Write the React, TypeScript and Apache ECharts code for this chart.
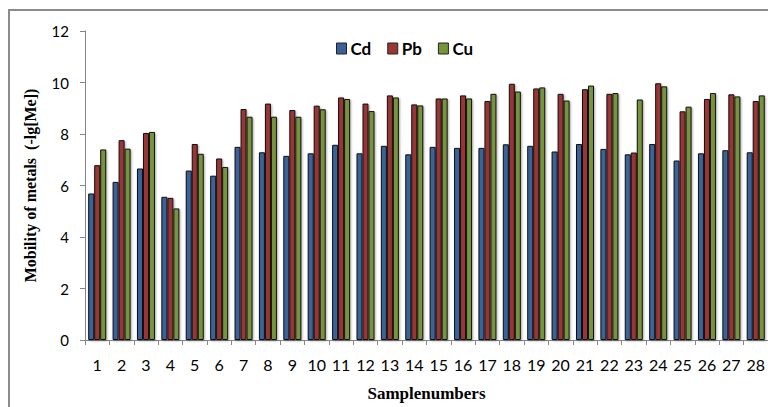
import React, { useEffect, useRef } from "react";
import * as echarts from "echarts";

const categories = ["1","2","3","4","5","6","7","8","9","10","11","12","13","14","15","16","17","18","19","20","21","22","23","24","25","26","27","28"];
const cdValues = [5.69,6.14,6.66,5.56,6.58,6.38,7.5,7.29,7.15,7.25,7.58,7.25,7.54,7.21,7.5,7.46,7.46,7.6,7.54,7.32,7.61,7.42,7.21,7.61,6.97,7.25,7.37,7.29];
const pbValues = [6.79,7.76,8.04,5.52,7.61,7.05,8.97,9.18,8.93,9.1,9.42,9.18,9.5,9.15,9.38,9.5,9.28,9.95,9.77,9.56,9.74,9.56,7.28,9.97,8.88,9.36,9.54,9.28];
const cuValues = [7.4,7.43,8.08,5.11,7.23,6.72,8.67,8.67,8.67,8.96,9.36,8.89,9.42,9.11,9.38,9.38,9.56,9.65,9.81,9.3,9.88,9.59,9.34,9.85,9.06,9.59,9.46,9.5];

const seriesNames = ["Cd", "Pb", "Cu"];
const colors = ["#3A6299", "#9A3634", "#77933C"];

export default function App() {
  const ref = useRef<HTMLDivElement>(null);
  useEffect(() => {
    if (!ref.current) return;
    const chart = echarts.init(ref.current, undefined, { renderer: "svg" });
    const data = [cdValues, pbValues, cuValues];
    chart.setOption({
      animation: false,
      backgroundColor: "#ffffff",
      graphic: [
        {
          type: "rect",
          shape: { x: 9, y: 10, width: 800, height: 450 },
          style: { fill: "none", stroke: "#8C8C8C", lineWidth: 2 },
          silent: true,
        },
      ],
      legend: {
        top: 35,
        left: 331,
        icon: "rect",
        itemWidth: 10,
        itemHeight: 11,
        itemGap: 16,
        data: seriesNames,
        itemStyle: { borderColor: "#222", borderWidth: 1 },
        textStyle: { fontFamily: "Lato", fontWeight: "bold", fontSize: 17, color: "#000", padding: [0, 0, 0, -1] },
      },
      grid: { left: 85, top: 31, width: 684, height: 310 },
      xAxis: {
        type: "category",
        data: categories,
        name: "Samplenumbers",
        nameLocation: "middle",
        nameGap: 45,
        nameTextStyle: { fontFamily: "Liberation Serif", fontWeight: "bold", fontSize: 17, color: "#000" },
        axisLine: { lineStyle: { color: "#868686", width: 1 } },
        axisTick: { show: true, length: 5, lineStyle: { color: "#868686" } },
        axisLabel: { fontFamily: "Lato", fontSize: 16, color: "#000", margin: 16, interval: 0 },
      },
      yAxis: {
        type: "value",
        min: 0,
        max: 12,
        interval: 2,
        name: "Mobility of metals  (-lg[Me])",
        nameLocation: "middle",
        nameGap: 47,
        nameRotate: 90,
        nameTextStyle: { fontFamily: "Liberation Serif", fontWeight: "bold", fontSize: 16, color: "#000" },
        axisLine: { show: true, lineStyle: { color: "#868686", width: 1 } },
        axisTick: { show: true, length: 5, lineStyle: { color: "#868686" } },
        axisLabel: { fontFamily: "Lato", fontSize: 15, color: "#000", margin: 16 },
        splitLine: { show: false },
      },
      series: seriesNames.map((name, i) => ({
        name,
        type: "bar",
        data: data[i],
        barWidth: 6,
        barGap: "0%",
        itemStyle: {
          color: colors[i],
          borderColor: "#111",
          borderWidth: 1,
          shadowColor: "rgba(0,0,0,0.35)",
          shadowBlur: 2,
          shadowOffsetX: 1,
          shadowOffsetY: 1,
        },
      })),
    });
    return () => chart.dispose();
  }, []);
  return (
    <div
      ref={ref}
      style={{ position: "fixed", left: 0, top: 0, width: 768, height: 407 }}
    />
  );
}
